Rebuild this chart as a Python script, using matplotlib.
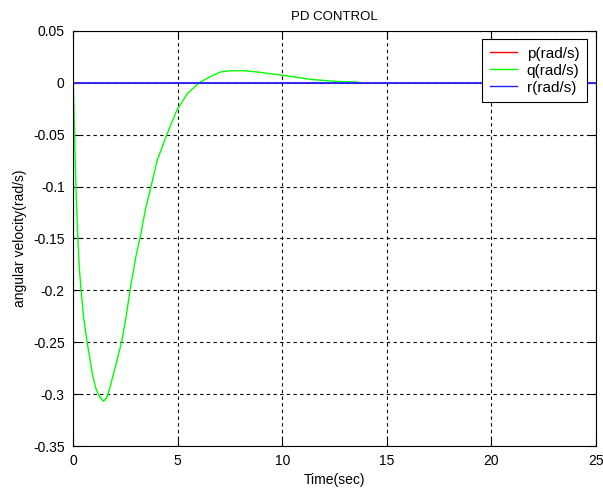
import matplotlib
matplotlib.use("Agg")
import matplotlib.pyplot as plt

plt.rcParams['font.family'] = ['Liberation Sans', 'DejaVu Sans']

# time (s) and q response
t_q = [0, 0.02, 0.05, 0.1, 0.16, 0.24, 0.3, 0.38, 0.5, 0.66, 0.8, 0.95,
       1.1, 1.26, 1.46, 1.62, 1.75, 1.9, 2.1, 2.34, 2.55, 2.74, 3.0, 3.22,
       3.46, 3.73, 4.02, 4.5, 4.98, 5.47, 6.03, 6.59, 7.07, 7.6, 8.2, 8.8,
       10.0, 11.4, 12.5, 13.6]
q_vals = [0, -0.005, -0.03, -0.07, -0.114, -0.153, -0.178, -0.198, -0.225,
          -0.248, -0.265, -0.283, -0.295, -0.302, -0.307, -0.303, -0.295,
          -0.283, -0.268, -0.248, -0.224, -0.198, -0.168, -0.148, -0.122,
          -0.100, -0.075, -0.049, -0.0256, -0.0102, 0.0, 0.0064, 0.0106,
          0.0118, 0.0117, 0.0105, 0.0074, 0.0033, 0.0015, 0.0008]
t_pr = [0, 25]
p_vals = [0, 0]
r_vals = [0, 0]

x_ticks = [0, 5, 10, 15, 20, 25]
y_ticks = [-0.35, -0.3, -0.25, -0.2, -0.15, -0.1, -0.05, 0, 0.05]
y_tick_labels = ['-0.35', '-0.3', '-0.25', '-0.2', '-0.15', '-0.1', '-0.05', '0', '0.05']

fig = plt.figure(figsize=(6.03, 4.9), dpi=100)
ax = fig.add_axes([73/603, 1-446/490, (596-73)/603, (446-31)/490])

ax.plot(t_pr, p_vals, color='#ff0000', lw=0.6, label='p(rad/s)')
ax.plot(t_q, q_vals, color='#00ff00', lw=1.0, label='q(rad/s)')
ax.plot(t_pr, r_vals, color='#2020ff', lw=1.3, label='r(rad/s)')

ax.set_xlim(0, 25)
ax.set_ylim(-0.35, 0.05)
ax.set_xticks(x_ticks)
ax.set_xticklabels([str(v) for v in x_ticks])
ax.set_yticks(y_ticks)
ax.set_yticklabels(y_tick_labels)
ax.tick_params(direction='in', top=True, right=True, labelsize=10, length=5, width=0.8, pad=6)
ax.grid(True, color='black', linestyle=(0, (3, 3)), linewidth=0.8)
for s in ax.spines.values():
    s.set_linewidth(0.8)
    s.set_color('black')

ax.set_title('PD CONTROL', fontsize=9.5, pad=8)
ax.set_xlabel('Time(sec)', fontsize=10, labelpad=3)
ax.set_ylabel('angular velocity(rad/s)', fontsize=10, labelpad=4)

leg = ax.legend(loc='upper right', bbox_to_anchor=(587/603, 1-39/490),
                bbox_transform=fig.transFigure, borderaxespad=0,
                fancybox=False, edgecolor='black', framealpha=1,
                fontsize=11, handlelength=1.8, labelspacing=0.2,
                handletextpad=0.6, borderpad=0.5)
leg.get_frame().set_linewidth(0.8)
for line in leg.get_lines():
    line.set_linewidth(1.0)

fig.savefig('out.png', dpi=100)
